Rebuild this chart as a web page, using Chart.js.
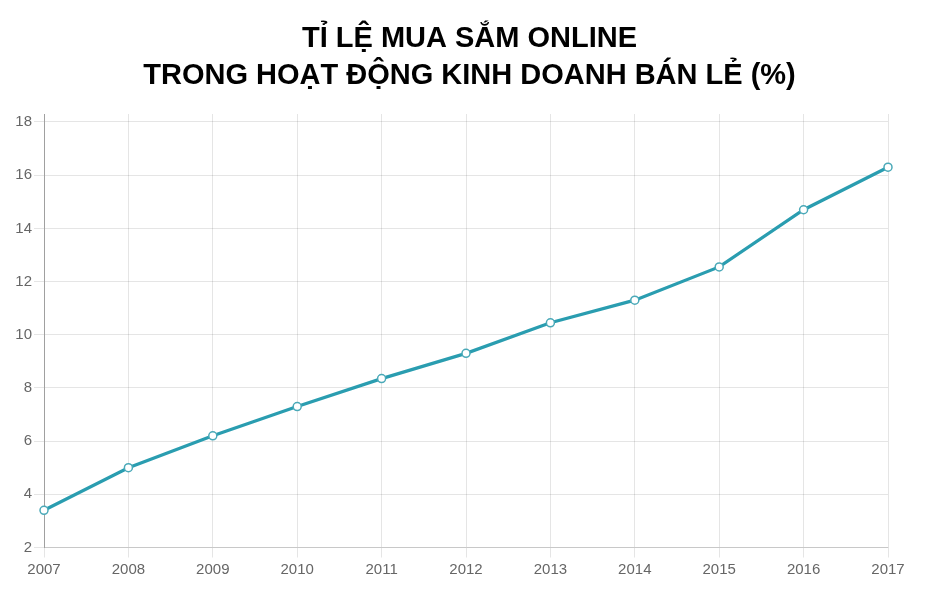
<!DOCTYPE html>
<html>
<head>
<meta charset="utf-8">
<script src="https://cdn.jsdelivr.net/npm/chart.js@4.4.0/dist/chart.umd.min.js"></script>
<style>
html,body{margin:0;padding:0;background:#fff;}
#wrap{width:939px;height:605px;}
</style>
</head>
<body>
<div id="wrap"><canvas id="c" width="939" height="605"></canvas></div>
<script>
const titleLines = ["TỈ LỆ MUA SẮM ONLINE", "TRONG HOẠT ĐỘNG KINH DOANH BÁN LẺ (%)"];
const years = ["2007","2008","2009","2010","2011","2012","2013","2014","2015","2016","2017"];
const onlineShare = [3.4, 5.0, 6.2, 7.3, 8.35, 9.3, 10.45, 11.3, 12.55, 14.7, 16.3];
const yTicks = [2, 4, 6, 8, 10, 12, 14, 16, 18];

const teal = '#2a9db0';
const tickFont = { family: '"Liberation Sans", Arial, sans-serif', size: 15 };
new Chart(document.getElementById('c'), {
  type: 'line',
  data: {
    labels: years,
    datasets: [{
      data: onlineShare,
      yAxisID: 'y',
      borderColor: teal,
      borderWidth: 3.2,
      backgroundColor: '#ffffff',
      pointBackgroundColor: '#ffffff',
      pointBorderColor: '#4aa9b8',
      pointBorderWidth: 1.5,
      pointRadius: 4,
      tension: 0,
      fill: false
    }]
  },
  options: {
    responsive: false,
    devicePixelRatio: 1,
    animation: false,
    layout: { padding: { left: 0, right: 0, top: 0, bottom: 23.5 } },
    plugins: {
      legend: { display: false },
      tooltip: { enabled: false },
      title: {
        display: true,
        text: titleLines,
        color: '#000',
        font: { family: '"Liberation Sans", Arial, sans-serif', size: 29, weight: 'bold', lineHeight: 1.276 },
        padding: { top: 20, bottom: 20 }
      }
    },
    scales: {
      x: {
        grid: { color: 'rgba(0,0,0,0.1)', tickLength: 10, lineWidth: 1 },
        border: { color: 'rgba(0,0,0,0.13)' },
        ticks: { color: '#666', font: tickFont, padding: 3, maxRotation: 0 }
      },
      y: {
        min: 2,
        max: 18.3,
        afterFit: (s) => { s.width = 44; },
        afterBuildTicks: (s) => { s.ticks = yTicks.map(v => ({ value: v })); },
        grid: { color: 'rgba(0,0,0,0.1)', tickLength: 10, lineWidth: 1 },
        border: { color: '#a0a0a0' },
        ticks: { color: '#666', font: tickFont, padding: 2 }
      },
      spacer: {
        type: 'linear',
        position: 'right',
        display: true,
        afterFit: (s) => { s.width = 51; },
        grid: { display: false, drawTicks: false },
        border: { display: false },
        ticks: { display: false }
      }
    }
  }
});
</script>
</body>
</html>
